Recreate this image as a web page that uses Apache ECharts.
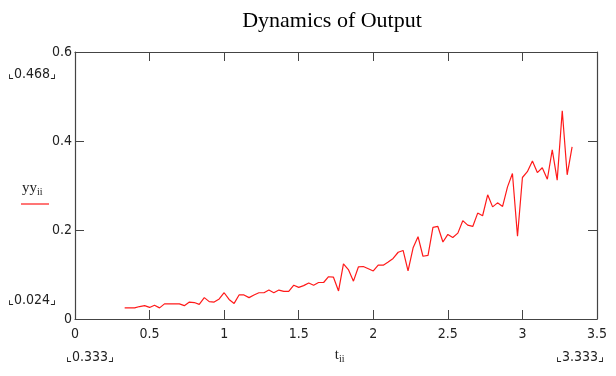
<!DOCTYPE html>
<html>
<head>
<meta charset="utf-8">
<script src="https://cdn.jsdelivr.net/npm/echarts@6/dist/echarts.min.js"></script>
<style>
html,body{margin:0;padding:0;background:#fff;}
#chart{width:616px;height:376px;}
</style>
</head>
<body>
<div id="chart"></div>
<script>
var chartTitle = 'Dynamics of Output';
var xTicks = [0, 0.5, 1, 1.5, 2, 2.5, 3, 3.5];
var yTicks = [0, 0.2, 0.4, 0.6];
var tValues = [
  0.333, 0.367, 0.400, 0.433, 0.467, 0.500, 0.533, 0.567, 0.600, 0.633,
  0.667, 0.700, 0.733, 0.767, 0.800, 0.833, 0.867, 0.900, 0.933, 0.967,
  1.000, 1.033, 1.067, 1.100, 1.133, 1.167, 1.200, 1.233, 1.267, 1.300,
  1.333, 1.367, 1.400, 1.433, 1.467, 1.500, 1.533, 1.567, 1.600, 1.633,
  1.667, 1.700, 1.733, 1.767, 1.800, 1.833, 1.867, 1.900, 1.933, 1.967,
  2.000, 2.033, 2.067, 2.100, 2.133, 2.167, 2.200, 2.233, 2.267, 2.300,
  2.333, 2.367, 2.400, 2.433, 2.467, 2.500, 2.533, 2.567, 2.600, 2.633,
  2.667, 2.700, 2.733, 2.767, 2.800, 2.833, 2.867, 2.900, 2.933, 2.967,
  3.000, 3.033, 3.067, 3.100, 3.133, 3.167, 3.200, 3.233, 3.267, 3.300,
  3.333
];
var yyValues = [
  0.025, 0.025, 0.025, 0.028, 0.030, 0.026, 0.031, 0.025, 0.034, 0.034,
  0.034, 0.034, 0.030, 0.038, 0.037, 0.033, 0.048, 0.039, 0.038, 0.045,
  0.059, 0.044, 0.035, 0.054, 0.054, 0.048, 0.054, 0.059, 0.059, 0.065,
  0.059, 0.065, 0.062, 0.062, 0.076, 0.071, 0.075, 0.081, 0.076, 0.082,
  0.082, 0.095, 0.094, 0.063, 0.124, 0.111, 0.085, 0.117, 0.118, 0.113,
  0.108, 0.121, 0.121, 0.128, 0.136, 0.150, 0.154, 0.108, 0.160, 0.185,
  0.141, 0.143, 0.206, 0.208, 0.173, 0.190, 0.183, 0.193, 0.221, 0.211,
  0.208, 0.238, 0.232, 0.279, 0.252, 0.261, 0.253, 0.297, 0.327, 0.186,
  0.318, 0.331, 0.355, 0.329, 0.340, 0.314, 0.380, 0.312, 0.468, 0.324,
  0.387
];
var yMaxLabel = '0.468';
var yMinLabel = '0.024';
var xMinLabel = '0.333';
var xMaxLabel = '3.333';
var yName = 'yy';
var xName = 't';
var subName = 'ii';

var seriesData = tValues.map(function (t, i) { return [t, yyValues[i]]; });

var chart = echarts.init(document.getElementById('chart'), null, {renderer: 'canvas'});
var labelFont = "'Liberation Sans Narrow', 'DejaVu Sans Condensed', 'Liberation Sans', sans-serif";
var serif = "'Liberation Serif', 'DejaVu Serif', serif";
var axisColor = '#444444';

function axisCommon(show) {
  return {
    axisLine: {show: true, onZero: false, lineStyle: {color: axisColor, width: 1.2}},
    axisTick: {show: true, inside: true, length: 9, lineStyle: {color: axisColor}},
    splitLine: {show: false},
    axisLabel: {show: show, color: '#222', fontFamily: labelFont, fontSize: 14}
  };
}

var xBottom = Object.assign({type: 'value', position: 'bottom', min: xTicks[0], max: xTicks[xTicks.length - 1], interval: 0.5}, axisCommon(true));
xBottom.axisLabel.margin = 8;
var xTop = Object.assign({type: 'value', position: 'top', min: xTicks[0], max: xTicks[xTicks.length - 1], interval: 0.5}, axisCommon(false));
var yLeft = Object.assign({type: 'value', position: 'left', min: yTicks[0], max: yTicks[yTicks.length - 1], interval: 0.2}, axisCommon(true));
yLeft.axisLabel.margin = 3;
var yRight = Object.assign({type: 'value', position: 'right', min: yTicks[0], max: yTicks[yTicks.length - 1], interval: 0.2}, axisCommon(false));

function cornerText(s) { return '\u231E' + s + '\u231F'; }

var option = {
  backgroundColor: '#ffffff',
  animation: false,
  grid: {left: 75, right: 19, top: 52, bottom: 57, containLabel: false},
  xAxis: [xBottom, xTop],
  yAxis: [yLeft, yRight],
  series: [{
    type: 'line',
    xAxisIndex: 0,
    yAxisIndex: 0,
    data: seriesData,
    showSymbol: false,
    symbol: 'none',
    lineStyle: {color: '#ff1a1a', width: 1.2},
    itemStyle: {color: '#ff1a1a'}
  }],
  graphic: [
    {type: 'text', x: 332, y: 21, style: {text: chartTitle, font: '22px ' + serif, fill: '#000', textAlign: 'center', textVerticalAlign: 'middle', align: 'center', verticalAlign: 'middle'}},
    {type: 'text', x: 32, y: 74, style: {text: cornerText(yMaxLabel), font: '14px ' + labelFont, fill: '#222', textAlign: 'center', textVerticalAlign: 'middle', align: 'center', verticalAlign: 'middle'}},
    {type: 'text', x: 32, y: 300, style: {text: cornerText(yMinLabel), font: '14px ' + labelFont, fill: '#222', textAlign: 'center', textVerticalAlign: 'middle', align: 'center', verticalAlign: 'middle'}},
    {type: 'text', x: 90, y: 357, style: {text: cornerText(xMinLabel), font: '14px ' + labelFont, fill: '#222', textAlign: 'center', textVerticalAlign: 'middle', align: 'center', verticalAlign: 'middle'}},
    {type: 'text', x: 580, y: 357, style: {text: cornerText(xMaxLabel), font: '14px ' + labelFont, fill: '#222', textAlign: 'center', textVerticalAlign: 'middle', align: 'center', verticalAlign: 'middle'}},
    {type: 'text', x: 37, y: 188, style: {text: yName, font: '15px ' + serif, fill: '#222', textAlign: 'right', textVerticalAlign: 'middle', align: 'right', verticalAlign: 'middle'}},
    {type: 'text', x: 37, y: 192, style: {text: subName, font: '10px ' + serif, fill: '#222', textAlign: 'left', textVerticalAlign: 'middle', align: 'left', verticalAlign: 'middle'}},
    {type: 'text', x: 339, y: 355, style: {text: xName, font: '15px ' + serif, fill: '#222', textAlign: 'right', textVerticalAlign: 'middle', align: 'right', verticalAlign: 'middle'}},
    {type: 'text', x: 339, y: 359, style: {text: subName, font: '10px ' + serif, fill: '#222', textAlign: 'left', textVerticalAlign: 'middle', align: 'left', verticalAlign: 'middle'}},
    {type: 'line', shape: {x1: 21, y1: 204, x2: 49, y2: 204}, style: {stroke: '#ff1a1a', lineWidth: 1.2}}
  ]
};
chart.setOption(option);
</script>
</body>
</html>
